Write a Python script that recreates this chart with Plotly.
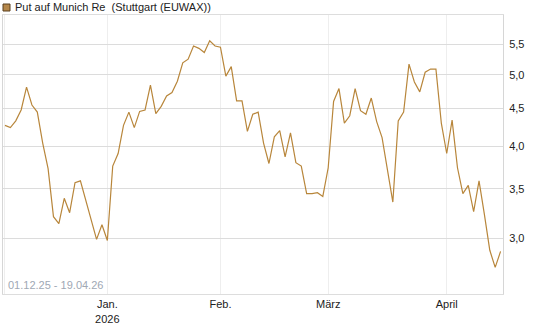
import pandas as pd
import plotly.graph_objects as go

# Trading days (Stuttgart/EUWAX), 01.12.2025 - 17.04.2026
holidays = ["2025-12-24", "2025-12-25", "2025-12-26", "2025-12-31",
            "2026-01-01", "2026-04-03", "2026-04-06"]
dates = [d for d in pd.bdate_range("2025-12-01", "2026-04-17")
         if d.strftime("%Y-%m-%d") not in holidays]

prices = [4.27, 4.24, 4.33, 4.48, 4.81, 4.55, 4.45, 4.04, 3.73, 3.21,
          3.14, 3.40, 3.25, 3.57, 3.59, 3.37, 3.19, 2.99, 3.13, 2.98,
          3.76, 3.91, 4.27, 4.45, 4.24, 4.46, 4.48, 4.84, 4.43, 4.53,
          4.68, 4.73, 4.90, 5.19, 5.25, 5.47, 5.43, 5.36, 5.56, 5.47,
          5.45, 4.98, 5.13, 4.61, 4.61, 4.19, 4.42, 4.45, 4.04, 3.79,
          4.12, 4.20, 3.87, 4.17, 3.80, 3.76, 3.45, 3.45, 3.46, 3.42,
          3.74, 4.60, 4.79, 4.30, 4.40, 4.79, 4.47, 4.42, 4.65, 4.32,
          4.11, 3.69, 3.36, 4.33, 4.45, 5.17, 4.89, 4.74, 5.04, 5.09,
          5.09, 4.30, 3.91, 4.34, 3.74, 3.45, 3.54, 3.26, 3.59, 3.23,
          2.89, 2.74, 2.88]

series_name = "Put auf Munich Re\u00a0 (Stuttgart (EUWAX))"
period_text = "01.12.25 - 19.04.26"
month_labels = {(2025, 12): "", (2026, 1): "Jan.<br>2026", (2026, 2): "Feb.",
                (2026, 3): "März", (2026, 4): "April"}
y_ticks = [3.0, 3.5, 4.0, 4.5, 5.0, 5.5]

idx = list(range(len(prices)))
tickvals, ticktext = [], []
prev = None
for i, d in enumerate(dates):
    key = (d.year, d.month)
    if key != prev:
        tickvals.append(i)
        ticktext.append(month_labels.get(key, ""))
        prev = key

line_color = "#b8863b"
font = "Liberation Sans, Arial, sans-serif"

fig = go.Figure()
fig.add_trace(go.Scatter(x=idx, y=prices, mode="lines", name=series_name,
                         line=dict(color=line_color, width=1.2),
                         showlegend=False, hoverinfo="skip"))

fig.update_layout(
    width=545, height=327,
    margin=dict(l=3, r=42, t=15, b=33),
    paper_bgcolor="white", plot_bgcolor="white",
    separators=",.",
    font=dict(family=font, size=11, color="#222"),
    showlegend=False,
    xaxis=dict(range=[-0.37, 92.45], tickmode="array", tickvals=tickvals,
               ticktext=ticktext, showgrid=True, gridcolor="#eeeeee",
               gridwidth=1, zeroline=False, showline=True, linecolor="#dddddd",
               mirror=True, ticks="", tickfont=dict(size=11, color="#222")),
    yaxis=dict(type="log", side="right",
               range=[0.4016, 0.7801], tickmode="array", tickvals=y_ticks,
               tickformat=".1f", showgrid=True, gridcolor="#dcdcdc",
               gridwidth=1, zeroline=False, showline=True, linecolor="#d6d6d6",
               mirror=True, ticks="outside", ticklen=3, tickcolor="rgba(0,0,0,0)",
               tickfont=dict(size=11, color="#222")),
    shapes=[dict(type="rect", xref="paper", yref="paper",
                 xsizemode="pixel", ysizemode="pixel", xanchor=0, yanchor=1,
                 x0=0, x1=7, y0=4, y1=11,
                 fillcolor="#b5874a", line=dict(color="#5a4020", width=1))],
    annotations=[
        dict(text=series_name, xref="paper", yref="paper", x=0, y=1,
             xanchor="left", yanchor="middle", xshift=10, yshift=8,
             showarrow=False, font=dict(size=11, color="#222", family=font)),
        dict(text=period_text, xref="paper", yref="paper", x=0, y=0,
             xanchor="left", yanchor="bottom", xshift=3, yshift=1,
             showarrow=False,
             font=dict(size=11, color="#a0a8b4", family=font))],
)

fig.write_html("out.html")
